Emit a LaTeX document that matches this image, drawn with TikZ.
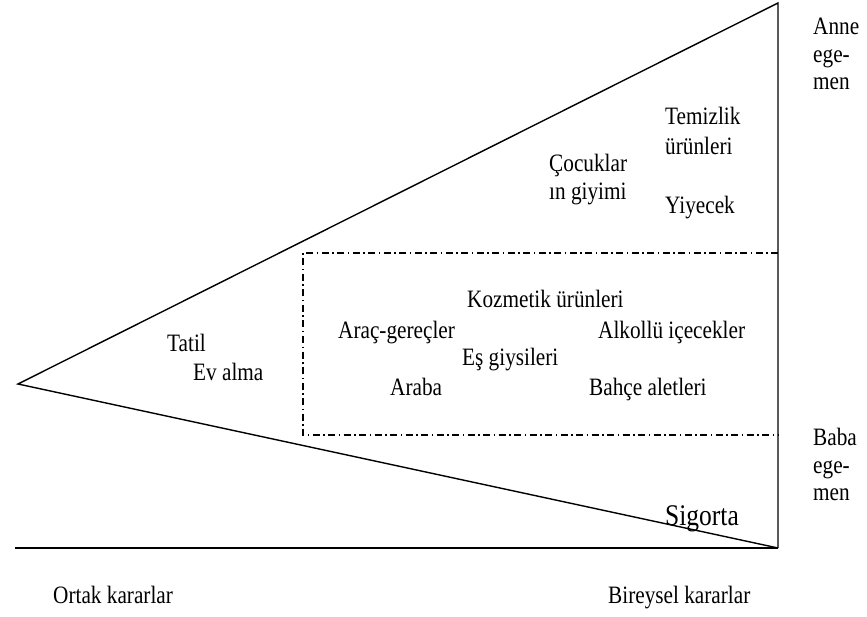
\documentclass[tikz,border=0pt]{standalone}
\usepackage{fontspec}
\setmainfont[FakeStretch=0.85]{Liberation Serif}
\tikzset{
    lbl/.style={inner sep=0pt, anchor=base west, font=\fontsize{25}{28}\selectfont},
    biglbl/.style={inner sep=0pt, anchor=base west, font=\fontsize{30}{34}\selectfont},
    dashdot box/.style={black, line width=1.2pt, dash pattern=on 7pt off 3.5pt on 1.5pt off 3.5pt}
}
\begin{document}
\begin{tikzpicture}[x=1pt, y=-1pt]
        \useasboundingbox (0,0) rectangle (867,617);

        \coordinate (apex) at (18,384);
        \coordinate (topR) at (778,3);
        \coordinate (botR) at (778,548);
        \coordinate (baseL) at (15,548);
        \coordinate (boxTL) at (303,253);
        \coordinate (boxBL) at (303,435);
        \coordinate (boxTR) at (778,253);
        \coordinate (boxBR) at (778,435);

        % triangle and base line
        \draw[black, line width=1.4pt] (botR) -- (apex) -- (topR) -- (botR);
        \draw[black, line width=1.4pt] (baseL) -- (botR);
        \draw[dashdot box] (boxTR) -- (boxTL) -- (boxBL) -- (boxBR);

        % mother side
        \node[lbl] (anne1) at (813,35) {Anne};
        \node[lbl] (anne2) at (813,63) {ege-};
        \node[lbl] (anne3) at (813,90) {men};
        \node[lbl] (temiz1) at (665,125) {Temizlik};
        \node[lbl] (temiz2) at (665,155) {ürünleri};
        \node[lbl] (cocuk1) at (549,172) {Çocuklar};
        \node[lbl] (cocuk2) at (549,200) {ın giyimi};
        \node[lbl] (yiyecek) at (665,214) {Yiyecek};

        % shared box
        \node[lbl] (kozmetik) at (467,308) {Kozmetik ürünleri};
        \node[lbl] (arac) at (338,338) {Araç-gereçler};
        \node[lbl] (alkol) at (598,338) {Alkollü içecekler};
        \node[lbl] (es) at (462,366) {Eş giysileri};
        \node[lbl] (araba) at (390,395) {Araba};
        \node[lbl] (bahce) at (589,395) {Bahçe aletleri};

        % joint
        \node[lbl] (tatil) at (167,352) {Tatil};
        \node[lbl] (ev) at (193,381) {Ev alma};

        % father side
        \node[lbl] (baba1) at (813,445) {Baba};
        \node[lbl] (baba2) at (813,473) {ege-};
        \node[lbl] (baba3) at (813,500) {men};
        \node[biglbl] (sigorta) at (665,525) {Sigorta};

        \node[lbl] (ortak) at (53,603) {Ortak kararlar};
        \node[lbl] (bireysel) at (608,603) {Bireysel kararlar};
\end{tikzpicture}
\end{document}
